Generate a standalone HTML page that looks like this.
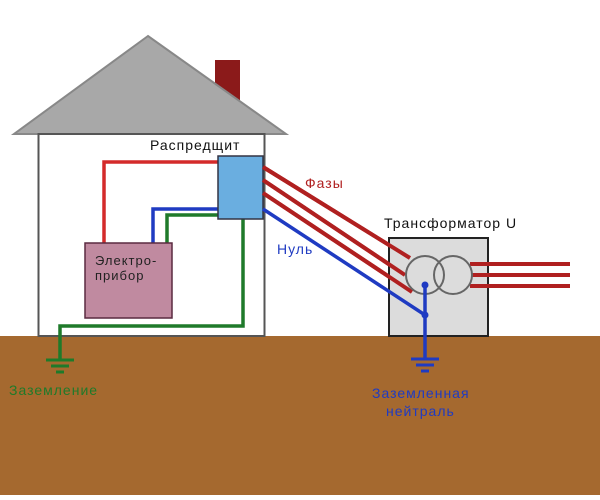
<!DOCTYPE html>
<html><head><meta charset="utf-8"><style>
body{margin:0;width:600px;height:495px;overflow:hidden;background:#fff}
text{font-family:"Liberation Sans","DejaVu Sans",sans-serif;letter-spacing:1px}
</style></head><body>
<svg width="600" height="495" viewBox="0 0 600 495">
<rect x="0" y="336" width="600" height="159" fill="#a5692f"/>
<rect x="215" y="60" width="25" height="45" fill="#8b1a1a"/>
<polygon points="148,36 14,134 286,134" fill="#a8a8a8" stroke="#888" stroke-width="2"/>
<rect x="38.5" y="134" width="226" height="202" fill="#fff" stroke="#555" stroke-width="2"/>
<g fill="none" stroke-width="3.5">
<path d="M104,243 V162 H218" stroke="#d42a2a"/>
<path d="M153,243 V209 H218" stroke="#1f3bc2"/>
<path d="M167,243 V215 H218" stroke="#1f7a2a"/>
<path d="M243,219 V326 H60 V360" stroke="#1f7a2a"/>
<g stroke="#b02020" stroke-width="4" opacity="1">
<path d="M263,167 L410,258"/><path d="M263,180 L405,275"/><path d="M263,193 L412,292"/>
</g>
</g>
<rect x="218" y="156" width="45" height="63" fill="#6aaee0" stroke="#334" stroke-width="1.5"/>
<rect x="85" y="243" width="87" height="75" fill="#c08aa0" stroke="#5a2a40" stroke-width="1.5"/>
<rect x="389" y="238" width="99" height="98" fill="#dcdcdc" stroke="#222" stroke-width="2"/>
<g stroke="#b02020" stroke-width="4" fill="none">
<path d="M263,167 L410,258"/><path d="M263,180 L405,275"/><path d="M263,193 L412,292"/>
<path d="M470,264 H570 M472,275 H570 M470,286 H570"/>
</g>
<path d="M263,209 L425,315" stroke="#1f3bc2" stroke-width="3.5" fill="none"/>
<circle cx="425" cy="275" r="19" fill="none" stroke="#666" stroke-width="2"/>
<circle cx="453" cy="275" r="19" fill="none" stroke="#666" stroke-width="2"/>
<path d="M425,285 V358" stroke="#1f3bc2" stroke-width="3.5"/>
<circle cx="425" cy="285" r="3.5" fill="#1f3bc2"/><circle cx="425" cy="315" r="3.5" fill="#1f3bc2"/>
<g stroke="#1f3bc2" stroke-width="3"><path d="M411,359 H439 M416,365 H434 M421,371 H429"/></g>
<g stroke="#1f7a2a" stroke-width="3"><path d="M46,360 H74 M51,366 H69 M56,372 H64"/></g>
<text x="150" y="150" font-size="14" fill="#111">Распредщит</text>
<text x="305" y="188" font-size="14" fill="#b02020">Фазы</text>
<text x="277" y="254" font-size="14" fill="#1f3bc2">Нуль</text>
<text x="384" y="228" font-size="14" fill="#111">Трансформатор U</text>
<text x="95" y="265" font-size="13" fill="#222">Электро-</text>
<text x="95" y="280" font-size="13" fill="#222">прибор</text>
<text x="9" y="395" font-size="14" fill="#1f7a2a">Заземление</text>
<text x="372" y="398" font-size="14" fill="#1f3bc2">Заземленная</text>
<text x="386" y="416" font-size="14" fill="#1f3bc2">нейтраль</text>
</svg>
</body></html>
